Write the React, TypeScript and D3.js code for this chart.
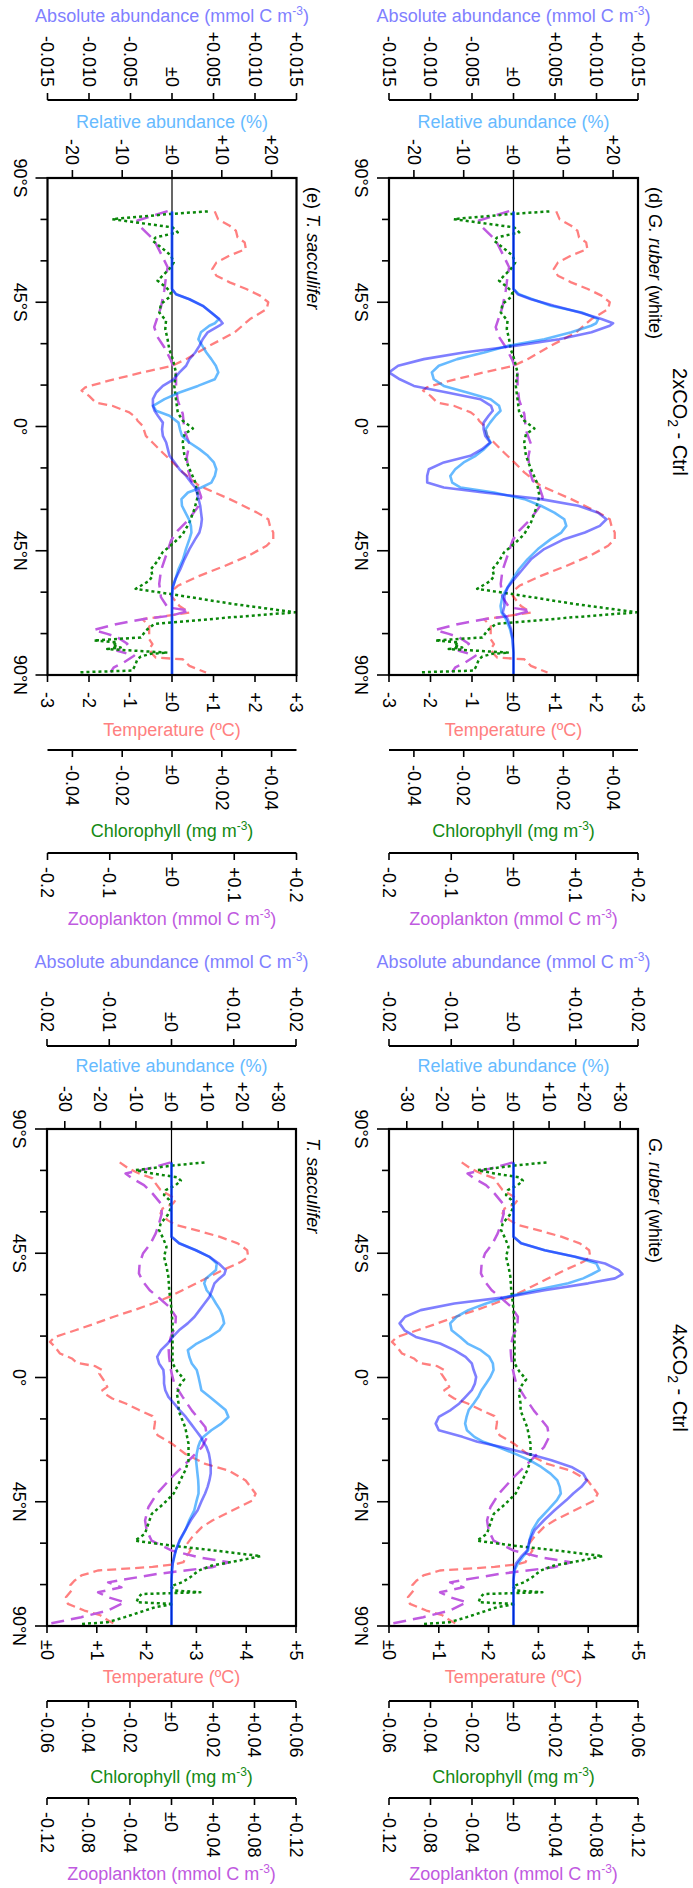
import React from "react";
import * as d3 from "d3";

// ---------------- DATA ----------------
const LAT_TICKS = [-90, -75, -60, -45, -30, -15, 0, 15, 30, 45, 60, 75, 90];
const LAT_MAJOR = [-90, -45, 0, 45, 90];
const LAT_LABELS = ["90°S", "45°S", "0°", "45°N", "90°N"];

// abundance latitude grids
const LAT_2X = [-77.9, -49.8, -47.9, -46.1, -43.7, -41.3, -38.9, -37.4, -36.5, -34.1,
  -31.6, -29.2, -26.8, -24.4, -22.0, -19.6, -17.1, -14.7, -12.3, -9.9,
  -7.5, -5.7, -3.9, -1.4, 1.0, 3.4, 5.8, 8.2, 10.6, 13.0,
  15.5, 17.9, 20.3, 22.1, 23.9, 26.3, 28.7, 31.2, 33.6, 36.0,
  38.4, 40.8, 44.4, 48.1, 51.7, 55.3, 58.3, 61.4, 65.0, 67.4,
  69.8, 73.4, 77.1, 81.9, 90];

const ABS_2X_RUBER = [0, 0, 0.0005, 0.0021, 0.0049, 0.0080, 0.0106, 0.0120, 0.0116, 0.0094,
  0.0055, 0.0001, -0.0060, -0.0108, -0.0139, -0.0150, -0.0137, -0.0120, -0.0080, -0.0040,
  -0.0027, -0.0025, -0.0030, -0.0036, -0.0036, -0.0034, -0.0028, -0.0038, -0.0052, -0.0084,
  -0.0102, -0.0104, -0.0104, -0.0084, -0.0036, 0.0033, 0.0078, 0.0102, 0.0112, 0.0104,
  0.0086, 0.0061, 0.0037, 0.0021, 0.0011, 0.0001, -0.0007, -0.0011, -0.0011, -0.0013,
  -0.0007, -0.0003, -0.0001, 0, 0];
const REL_2X_RUBER = [0, 0, 1.1, 3.8, 7.5, 13.7, 17.0, 16.6, 15.6, 11.6,
  6.2, -1.2, -5.9, -11.3, -15.0, -16.4, -16.0, -14.0, -9.3, -4.6,
  -2.9, -2.6, -3.6, -4.7, -5.6, -5.3, -4.6, -5.9, -7.6, -10.0,
  -11.7, -12.7, -12.3, -10.6, -3.9, 2.2, 5.5, 8.2, 10.2, 10.6,
  9.6, 7.5, 4.9, 2.8, 1.1, -0.2, -1.2, -2.2, -2.6, -2.4,
  -1.5, -0.7, -0.2, 0, 0];
const ABS_2X_SACC = [0, 0, 0.0005, 0.0021, 0.0037, 0.0047, 0.0057, 0.0061, 0.0057, 0.0043,
  0.0037, 0.0033, 0.0028, 0.0021, 0.0017, 0.0009, 0.0002, -0.0011, -0.0019, -0.0023,
  -0.0023, -0.0021, -0.0017, -0.0011, -0.0012, -0.0011, -0.0007, -0.0005, -0.0003, 0.0003,
  0.0009, 0.0017, 0.0023, 0.0028, 0.0030, 0.0032, 0.0034, 0.0035, 0.0036, 0.0035,
  0.0033, 0.0028, 0.0021, 0.0015, 0.0010, 0.0004, 0.0001, 0, 0, 0,
  0, 0, 0, 0, 0];
const REL_2X_SACC = [0, 0, 0.8, 3.5, 6.2, 7.9, 9.4, 8.6, 7.5, 5.8,
  5.3, 6.1, 6.9, 7.9, 8.8, 9.3, 8.6, 5.2, 1.5, -1.5,
  -3.8, -3.2, -0.5, 1.3, 1.6, 2.0, 3.5, 5.5, 7.2, 8.4,
  8.9, 8.6, 7.9, 5.9, 3.2, 1.9, 2.0, 2.7, 3.4, 3.8,
  3.9, 3.5, 2.8, 2.2, 1.3, 0.7, 0.1, 0, 0, 0,
  0, 0, 0, 0, 0];

const LAT_4X = [-77.9, -51.0, -48.6, -46.1, -43.7, -41.3, -38.9, -37.4, -35.9, -34.1,
  -31.6, -29.2, -26.8, -24.4, -22.0, -19.6, -17.1, -14.7, -12.3, -9.9,
  -7.5, -5.1, -2.7, -0.2, 2.2, 4.6, 7.0, 9.4, 11.8, 14.3,
  16.7, 19.1, 21.5, 23.3, 25.1, 27.5, 30.0, 32.4, 34.8, 37.2,
  39.6, 42.0, 44.4, 48.1, 51.7, 55.3, 58.9, 62.6, 65.0, 67.4,
  69.8, 73.4, 90];

const ABS_4X_RUBER = [0, 0, 0.0012, 0.0050, 0.0099, 0.0147, 0.0169, 0.0175, 0.0163, 0.0120,
  0.0050, -0.0009, -0.0095, -0.0149, -0.0174, -0.0183, -0.0175, -0.0157, -0.0118, -0.0095,
  -0.0077, -0.0067, -0.0064, -0.0060, -0.0062, -0.0067, -0.0077, -0.0087, -0.0101, -0.0120,
  -0.0125, -0.0120, -0.0082, -0.0058, -0.0021, 0.0022, 0.0061, 0.0093, 0.0112, 0.0118,
  0.0109, 0.0096, 0.0085, 0.0066, 0.0049, 0.0034, 0.0026, 0.0022, 0.0012, 0.0004,
  0.0001, 0, 0];
const REL_4X_RUBER = [0, 0, 2.2, 8.8, 17.3, 23.3, 24.2, 22.0, 19.6, 15.4,
  5.9, -1.8, -7.7, -12.7, -16.0, -17.8, -17.4, -15.0, -12.9, -9.2,
  -6.8, -5.8, -5.6, -6.5, -7.7, -9.0, -9.9, -11.2, -12.6, -13.2,
  -13.6, -13.1, -11.0, -8.5, -4.5, 0.2, 4.6, 7.8, 10.4, 12.3,
  13.0, 13.3, 12.2, 9.6, 7.0, 5.3, 4.5, 4.1, 2.6, 1.2,
  0.3, 0, 0];
const ABS_4X_SACC = [0, 0, 0.0012, 0.0039, 0.0061, 0.0076, 0.0087, 0.0085, 0.0077, 0.0069,
  0.0065, 0.0061, 0.0053, 0.0045, 0.0037, 0.0026, 0.0012, 0.0002, -0.0006, -0.0017,
  -0.0023, -0.0020, -0.0013, -0.0012, -0.0012, -0.0010, -0.0005, 0.0004, 0.0013, 0.0023,
  0.0031, 0.0039, 0.0047, 0.0051, 0.0056, 0.0060, 0.0062, 0.0063, 0.0063, 0.0061,
  0.0058, 0.0054, 0.0049, 0.0042, 0.0031, 0.0022, 0.0013, 0.0007, 0.0004, 0.0002,
  0.0001, 0, 0];
const REL_4X_SACC = [0, 0, 2.2, 6.9, 10.7, 12.7, 12.5, 11.1, 9.7, 9.2,
  9.9, 11.4, 12.5, 13.7, 14.4, 14.8, 13.5, 10.7, 7.1, 4.6,
  5.0, 5.7, 7.1, 7.6, 8.0, 8.4, 10.7, 13.0, 15.2, 16.0,
  14.0, 11.2, 9.0, 8.0, 7.5, 7.1, 6.9, 7.1, 7.3, 7.5,
  7.6, 7.6, 7.1, 6.4, 5.0, 3.9, 2.4, 1.2, 0.8, 0.3,
  0.1, 0, 0];

// environmental series: [latitude, value]
const TEMP_2X = [[-77.9, 1.03], [-75.1, 1.11], [-72.7, 1.39], [-70.9, 1.54], [-68.5, 1.58], [-66.7, 1.75], [-64.3, 1.78], [-61.9, 1.39], [-59.4, 1.07], [-57.0, 0.97], [-54.6, 1.07], [-52.2, 1.39], [-49.8, 1.79], [-47.4, 2.12], [-45.0, 2.32], [-42.5, 2.28], [-38.9, 1.88], [-34.1, 1.51], [-29.3, 0.91], [-24.4, 0.34], [-22.0, 0], [-19.6, -0.71], [-16.6, -1.52], [-14.2, -2.09], [-13.0, -2.18], [-11.1, -2.0], [-8.7, -1.84], [-7.5, -1.44], [-5.1, -1.03], [-3.3, -0.87], [-2.1, -0.83], [-0.3, -0.71], [3.4, -0.63], [5.8, -0.47], [9.4, -0.23], [13.0, 0.02], [16.6, 0.26], [21.5, 0.66], [26.3, 1.39], [31.1, 2.04], [33.6, 2.32], [36.0, 2.36], [38.4, 2.44], [40.8, 2.44], [43.2, 2.28], [46.9, 1.83], [50.5, 1.27], [54.1, 0.66], [57.7, 0.14], [59.5, 0.0], [61.3, -0.02], [65.0, 0.18], [67.4, 0.42], [68.6, -0.15], [69.8, -0.71], [72.2, -0.55], [77.0, -0.55], [78.8, -0.47], [80.6, -0.55], [82.5, -0.47], [83.7, -0.39], [84.3, 0.26], [86.7, 0.42], [89.1, 0.82]];
const CHL_2X = [[-77.9, 0.0144], [-77.0, -0.0004], [-75.1, -0.024], [-72.1, 0.0003], [-70.3, 0.0023], [-68.5, -0.0065], [-67.3, -0.0078], [-64.9, -0.0044], [-61.9, -0.0004], [-59.4, 0.0007], [-57.0, -0.0011], [-54.6, -0.0038], [-52.8, -0.0058], [-50.4, -0.0024], [-48.6, -0.0004], [-46.8, -0.0011], [-44.4, -0.0044], [-41.3, -0.0051], [-38.3, -0.0024], [-35.3, -0.0027], [-31.7, -0.0018], [-28.0, -0.0011], [-24.4, 0.0003], [-19.6, 0.0016], [-14.8, 0.0009], [-9.9, 0.0016], [-5.1, 0.0023], [-2.1, 0.0043], [0.7, 0.0084], [2.8, 0.005], [5.8, 0.0043], [10.6, 0.005], [15.4, 0.007], [20.3, 0.0094], [25.1, 0.0104], [29.9, 0.009], [34.8, 0.007], [39.0, 0.0043], [42.0, 0.0009], [45.6, -0.0038], [48.7, -0.0058], [51.7, -0.0085], [54.1, -0.0078], [55.9, -0.0092], [58.8, -0.0146], [60.7, -0.0004], [64.2, 0.0239], [67.3, 0.0495], [69.1, 0.0239], [71.5, -0.0071], [73.9, -0.0105], [76.4, -0.0125], [77.5, -0.0314], [78.2, -0.022], [79.3, -0.024], [80.0, -0.0206], [80.6, -0.026], [81.9, -0.0018], [82.3, -0.0085], [83.3, -0.0125], [84.3, -0.0139], [86.0, -0.0146], [87.2, -0.0152], [88.4, -0.0159], [89.0, -0.0368]];
const ZOO_2X = [[-78.0, -0.007], [-74.6, -0.0555], [-72.2, -0.050], [-67.4, -0.0286], [-62.6, -0.0178], [-57.7, -0.007], [-54.1, -0.0097], [-49.3, -0.0124], [-43.2, -0.0178], [-39.6, -0.0232], [-36.0, -0.0286], [-32.4, -0.0232], [-28.7, -0.0124], [-23.9, -0.0016], [-19.1, 0.0065], [-14.3, 0.0065], [-9.4, 0.0092], [-4.6, 0.0173], [1.4, 0.020], [6.3, 0.028], [11.1, 0.0237], [15.9, 0.026], [19.6, 0.0307], [22.0, 0.0415], [25.6, 0.0469], [29.2, 0.0415], [34.1, 0.0253], [37.7, 0.0092], [41.3, -0.0016], [45.0, -0.007], [52.2, -0.0178], [57.0, -0.0205], [61.8, -0.0178], [65.5, -0.007], [66.7, 0.028], [68.5, -0.0016], [69.7, -0.0447], [71.5, -0.0879], [73.7, -0.1256], [75.1, -0.104], [76.3, -0.0879], [78.7, -0.0717], [81.2, -0.0879], [83.0, -0.0609], [85.4, -0.0771], [87.2, -0.0933], [89.0, -0.0987]];

const TEMP_4X = [[-77.9, 1.46], [-75.7, 1.64], [-73.9, 1.85], [-72.1, 2.12], [-70.3, 2.18], [-67.9, 2.28], [-66.1, 2.45], [-64.5, 2.59], [-63.0, 2.53], [-61.2, 2.32], [-59.4, 2.28], [-57.0, 2.42], [-55.2, 2.59], [-53.4, 2.99], [-51.0, 3.46], [-48.6, 3.83], [-46.1, 4.02], [-43.7, 4.04], [-41.9, 3.90], [-38.9, 3.53], [-35.3, 3.13], [-31.6, 2.72], [-29.2, 2.45], [-26.8, 2.12], [-24.4, 1.75], [-22.0, 1.34], [-19.6, 0.97], [-17.1, 0.57], [-14.7, 0.16], [-12.9, 0.06], [-11.1, 0.16], [-8.7, 0.26], [-6.9, 0.50], [-5.3, 0.60], [-4.1, 0.97], [-2.7, 1.11], [-1.4, 1.05], [1.0, 1.14], [3.4, 1.21], [4.6, 1.11], [6.0, 1.17], [7.6, 1.31], [9.4, 1.58], [11.8, 1.85], [14.0, 2.12], [16.1, 2.17], [18.5, 2.15], [20.9, 2.22], [24.0, 2.51], [27.7, 2.78], [31.3, 3.18], [33.7, 3.65], [37.3, 3.99], [42.1, 4.19], [44.6, 4.12], [48.2, 3.72], [51.8, 3.32], [54.2, 3.11], [57.9, 2.91], [60.3, 2.81], [62.7, 2.88], [65.0, 2.79], [66.9, 2.74], [67.6, 2.59], [68.6, 2.12], [69.9, 1.02], [71.7, 0.69], [73.6, 0.55], [75.2, 0.47], [77.2, 0.49], [79.6, 0.38], [82.0, 0.42], [84.4, 0.75], [86.1, 1.07], [88.0, 1.23], [89.3, 1.36]];
const CHL_4X = [[-77.9, 0.0159], [-76.9, 0.0021], [-75.1, -0.0173], [-73.9, -0.0092], [-72.5, 0.0029], [-71.3, 0.0045], [-69.7, 0.0021], [-67.9, -0.0027], [-66.1, -0.0036], [-64.3, -0.0011], [-61.8, 0], [-58.8, -0.0019], [-55.8, -0.0052], [-53.4, -0.006], [-50.4, -0.004], [-47.3, -0.0024], [-43.7, -0.0036], [-40.1, -0.0024], [-36.5, -0.0015], [-31.6, -0.0011], [-26.8, -0.0003], [-19.6, 0.0005], [-9.9, 0.0005], [-5.1, 0.0005], [-2.1, 0.0029], [0.7, 0.0061], [2.8, 0.004], [5.8, 0.0026], [9.4, 0.0034], [12.0, 0.0034], [18.0, 0.0066], [24.0, 0.0082], [30.1, 0.0082], [33.7, 0.0066], [37.3, 0.0042], [42.1, 0.001], [45.8, -0.0039], [49.4, -0.0095], [53.0, -0.0112], [56.6, -0.0128], [59.1, -0.0176], [60.9, 0.0002], [62.7, 0.0212], [64.7, 0.043], [66.3, 0.0325], [68.1, 0.0196], [69.9, 0.0131], [72.3, 0.0091], [74.2, 0.005], [75.6, -0.0003], [77.1, 0.0013], [77.8, 0.0139], [78.4, -0.0144], [79.6, -0.016], [81.4, -0.0168], [82.0, 0.001], [83.2, -0.0079], [84.4, -0.0128], [86.8, -0.0225], [88.6, -0.0306], [89.3, -0.0435]];
const ZOO_4X = [[-77.9, -0.0006], [-75.7, -0.0217], [-73.9, -0.0443], [-72.1, -0.0378], [-69.7, -0.0265], [-66.7, -0.0184], [-63.0, -0.0103], [-59.4, -0.0094], [-55.8, -0.012], [-52.2, -0.0152], [-48.6, -0.0201], [-44.9, -0.0275], [-41.3, -0.0307], [-37.7, -0.0314], [-34.7, -0.0275], [-31.6, -0.021], [-28.6, -0.0113], [-25.6, -0.0023], [-22.0, 0.0042], [-18.4, 0.0036], [-14.7, -0.0006], [-11.1, -0.0029], [-7.5, -0.0023], [-2.7, -0.0006], [2.2, 0.0026], [7.0, 0.0107], [12.0, 0.0197], [18.0, 0.0327], [21.6, 0.0343], [25.2, 0.0294], [30.1, 0.0165], [36.1, 0.0003], [42.1, -0.0142], [47.0, -0.0223], [51.8, -0.0255], [55.4, -0.0239], [59.1, -0.0191], [62.7, 0.0003], [65.1, 0.0262], [66.9, 0.0553], [68.7, 0.0391], [69.9, 0.0133], [71.1, -0.0126], [72.3, -0.032], [74.2, -0.0611], [76.0, -0.0482], [77.8, -0.0708], [79.6, -0.0611], [81.4, -0.045], [84.4, -0.0611], [86.8, -0.087], [89.3, -0.1193]];

// tick values
const ABS_TICKS_2X = [-0.015, -0.01, -0.005, 0, 0.005, 0.01, 0.015];
const REL_TICKS_2X = [-20, -10, 0, 10, 20];
const TEMP_TICKS_2X = [-3, -2, -1, 0, 1, 2, 3];
const CHL_TICKS_2X = [-0.04, -0.02, 0, 0.02, 0.04];
const ZOO_TICKS_2X = [-0.2, -0.1, 0, 0.1, 0.2];
const ABS_TICKS_4X = [-0.02, -0.01, 0, 0.01, 0.02];
const REL_TICKS_4X = [-30, -20, -10, 0, 10, 20, 30];
const TEMP_TICKS_4X = [0, 1, 2, 3, 4, 5];
const CHL_TICKS_4X = [-0.06, -0.04, -0.02, 0, 0.02, 0.04, 0.06];
const ZOO_TICKS_4X = [-0.12, -0.08, -0.04, 0, 0.04, 0.08, 0.12];

// ---------------- STYLE ----------------
const FONT = "'Liberation Sans', Arial, Helvetica, sans-serif";
const FS = 18;
const C_ABS = "rgba(0,0,255,0.5)";
const C_REL = "rgba(0,140,255,0.6)";
const C_TEMP = "rgba(255,0,0,0.5)";
const C_CHL = "#0A870A";
const C_ZOO = "#BF5AE0";
const T_ABS = "#8080FF";
const T_REL = "#66BAFF";
const T_TEMP = "#FF8080";
const T_CHL = "#148A14";
const T_ZOO = "#BF5AE0";

const signed = (v: number, d: number) =>
  Math.abs(v) < 1e-12 ? "±0" : (v > 0 ? "+" : "-") + Math.abs(v).toFixed(d);

const AX_2X = {
  absDomain: [-0.015, 0.015], absTicks: ABS_TICKS_2X, absDigits: 3,
  relDomain: [-25, 25], relTicks: REL_TICKS_2X,
  tempDomain: [-3, 3], tempTicks: TEMP_TICKS_2X,
  chlDomain: [-0.05, 0.05], chlTicks: CHL_TICKS_2X, chlDigits: 2,
  zooDomain: [-0.2, 0.2], zooTicks: ZOO_TICKS_2X, zooDigits: 1,
  temp: TEMP_2X, chl: CHL_2X, zoo: ZOO_2X,
  off: { relLabel: 13, relTitle: 50, absLine: 78, absLabel: 91, absTitle: 156.5,
    tempLabel: 17, tempTitle: 61, chlLine: 75, chlLabel: 90, chlTitle: 162,
    zooLine: 178, zooLabel: 192, zooTitle: 250 },
};
const AX_4X = {
  absDomain: [-0.02, 0.02], absTicks: ABS_TICKS_4X, absDigits: 2,
  relDomain: [-35, 35], relTicks: REL_TICKS_4X,
  tempDomain: [0, 5], tempTicks: TEMP_TICKS_4X,
  chlDomain: [-0.06, 0.06], chlTicks: CHL_TICKS_4X, chlDigits: 2,
  zooDomain: [-0.12, 0.12], zooTicks: ZOO_TICKS_4X, zooDigits: 2,
  temp: TEMP_4X, chl: CHL_4X, zoo: ZOO_4X,
  off: { relLabel: 17, relTitle: 57, absLine: 83, absLabel: 97, absTitle: 161,
    tempLabel: 14, tempTitle: 57, chlLine: 75, chlLabel: 86, chlTitle: 157,
    zooLine: 172, zooLabel: 186, zooTitle: 254 },
};

const PANELS = [
  { id: "d", x0: 178, x1: 675, y0: 55, y1: 304, ax: AX_2X, lat: LAT_2X, abs: ABS_2X_RUBER, rel: REL_2X_RUBER,
    title: [["(d) ", false], ["G. ruber", true], [" (white)", false]] },
  { id: "e", x0: 178, x1: 675, y0: 396.5, y1: 645.5, ax: AX_2X, lat: LAT_2X, abs: ABS_2X_SACC, rel: REL_2X_SACC,
    title: [["(e) ", false], ["T. sacculifer", true]] },
  { id: "r4", x0: 1129, x1: 1626, y0: 55, y1: 304, ax: AX_4X, lat: LAT_4X, abs: ABS_4X_RUBER, rel: REL_4X_RUBER,
    title: [["G. ruber", true], [" (white)", false]] },
  { id: "s4", x0: 1129, x1: 1626, y0: 397, y1: 646, ax: AX_4X, lat: LAT_4X, abs: ABS_4X_SACC, rel: REL_4X_SACC,
    title: [["T. sacculifer", true]] },
];

function VTitle({ x, y, color, children }: any) {
  return (
    <text transform={`translate(${x},${y}) rotate(-90)`} textAnchor="middle" fill={color} fontSize={FS}>
      {children}
    </text>
  );
}

function Unit({ pre, suffix }: { pre: string; suffix: string }) {
  return (
    <>
      <tspan>{pre}</tspan>
      <tspan dy={-7} fontSize={12}>-3</tspan>
      <tspan dy={7}>{suffix}</tspan>
    </>
  );
}

function Panel({ p }: any) {
  const a = p.ax;
  const o = a.off;
  const { x0, x1, y0, y1 } = p;
  const cy = (y0 + y1) / 2;
  const x = d3.scaleLinear().domain([-90, 90]).range([x0, x1]);
  const mk = (dom: number[]) => d3.scaleLinear().domain(dom).range([y1, y0]);
  const yAbs = mk(a.absDomain), yRel = mk(a.relDomain), yT = mk(a.tempDomain),
    yC = mk(a.chlDomain), yZ = mk(a.zooDomain);
  const path = (ys: any, pts: number[][]) =>
    d3.line<number[]>().x((d) => x(d[0])).y((d) => ys(d[1]))(pts) || "";
  const absPts = p.lat.map((l: number, i: number) => [l, p.abs[i]]);
  const relPts = p.lat.map((l: number, i: number) => [l, p.rel[i]]);
  const clip = `clip-${p.id}`;
  const tk = { stroke: "#000", strokeWidth: 1.6 };
  return (
    <g>
      <defs>
        <clipPath id={clip}>
          <rect x={x0} y={y0} width={x1 - x0} height={y1 - y0} />
        </clipPath>
      </defs>
      <g clipPath={`url(#${clip})`} fill="none" strokeLinejoin="round">
        <line x1={x0} x2={x1} y1={yAbs(0)} y2={yAbs(0)} stroke="#000" strokeWidth={1.2} />
        <path d={path(yT, a.temp)} stroke={C_TEMP} strokeWidth={2.3} strokeDasharray="9,5" />
        <path d={path(yZ, a.zoo)} stroke={C_ZOO} strokeWidth={2.5} strokeDasharray="13,7" />
        <path d={path(yC, a.chl)} stroke={C_CHL} strokeWidth={2.5} strokeDasharray="3,3" />
        <path d={path(yRel, relPts)} stroke={C_REL} strokeWidth={2.6} />
        <path d={path(yAbs, absPts)} stroke={C_ABS} strokeWidth={2.6} />
      </g>
      <rect x={x0} y={y0} width={x1 - x0} height={y1 - y0} fill="none" stroke="#000" strokeWidth={2.2} />

      {/* latitude axis */}
      {LAT_TICKS.map((t) => (
        <line key={"lt" + t} x1={x(t)} x2={x(t)} y1={y1} y2={y1 + (LAT_MAJOR.includes(t) ? 12 : 7)} {...tk} />
      ))}
      {LAT_MAJOR.map((t, i) => (
        <text key={"ll" + t} x={x(t)} y={y1 + 34} textAnchor="middle" fontSize={FS}>{LAT_LABELS[i]}</text>
      ))}

      {/* relative abundance (box left) */}
      {a.relTicks.map((t: number) => (
        <g key={"r" + t}>
          <line x1={x0 - 8} x2={x0} y1={yRel(t)} y2={yRel(t)} {...tk} />
          <text x={x0 - o.relLabel} y={yRel(t)} dy="0.35em" textAnchor="end" fontSize={FS}>{signed(t, 0)}</text>
        </g>
      ))}
      <VTitle x={x0 - o.relTitle} y={cy} color={T_REL}>Relative abundance (%)</VTitle>

      {/* absolute abundance */}
      <line x1={x0 - o.absLine} x2={x0 - o.absLine} y1={y0} y2={y1} stroke="#000" strokeWidth={2} />
      {a.absTicks.map((t: number) => (
        <g key={"a" + t}>
          <line x1={x0 - o.absLine - 7} x2={x0 - o.absLine} y1={yAbs(t)} y2={yAbs(t)} {...tk} />
          <text x={x0 - o.absLabel} y={yAbs(t)} dy="0.35em" textAnchor="end" fontSize={FS}>{signed(t, a.absDigits)}</text>
        </g>
      ))}
      <VTitle x={x0 - o.absTitle} y={cy} color={T_ABS}>
        <Unit pre="Absolute abundance (mmol C m" suffix=")" />
      </VTitle>

      {/* temperature (box right) */}
      {a.tempTicks.map((t: number) => (
        <g key={"t" + t}>
          <line x1={x1} x2={x1 + 7} y1={yT(t)} y2={yT(t)} {...tk} />
          <text x={x1 + o.tempLabel} y={yT(t)} dy="0.35em" textAnchor="start" fontSize={FS}>{signed(t, 0)}</text>
        </g>
      ))}
      <VTitle x={x1 + o.tempTitle} y={cy} color={T_TEMP}>Temperature (ºC)</VTitle>

      {/* chlorophyll */}
      <line x1={x1 + o.chlLine} x2={x1 + o.chlLine} y1={y0} y2={y1} stroke="#000" strokeWidth={2} />
      {a.chlTicks.map((t: number) => (
        <g key={"c" + t}>
          <line x1={x1 + o.chlLine} x2={x1 + o.chlLine + 7} y1={yC(t)} y2={yC(t)} {...tk} />
          <text x={x1 + o.chlLabel} y={yC(t)} dy="0.35em" textAnchor="start" fontSize={FS}>{signed(t, a.chlDigits)}</text>
        </g>
      ))}
      <VTitle x={x1 + o.chlTitle} y={cy} color={T_CHL}>
        <Unit pre="Chlorophyll (mg m" suffix=")" />
      </VTitle>

      {/* zooplankton */}
      <line x1={x1 + o.zooLine} x2={x1 + o.zooLine} y1={y0} y2={y1} stroke="#000" strokeWidth={2} />
      {a.zooTicks.map((t: number) => (
        <g key={"z" + t}>
          <line x1={x1 + o.zooLine} x2={x1 + o.zooLine + 7} y1={yZ(t)} y2={yZ(t)} {...tk} />
          <text x={x1 + o.zooLabel} y={yZ(t)} dy="0.35em" textAnchor="start" fontSize={FS}>{signed(t, a.zooDigits)}</text>
        </g>
      ))}
      <VTitle x={x1 + o.zooTitle} y={cy} color={T_ZOO}>
        <Unit pre="Zooplankton (mmol C m" suffix=")" />
      </VTitle>

      {/* panel title */}
      <text x={x0 + 9} y={y0 - 10.5} fontSize={FS}>
        {p.title.map((s: any, i: number) => (
          <tspan key={i} fontStyle={s[1] ? "italic" : "normal"}>{s[0]}</tspan>
        ))}
      </text>
    </g>
  );
}

function SupTitle({ cx, n }: { cx: number; n: string }) {
  return (
    <text x={cx} y={20} textAnchor="middle" fontSize={20}>
      <tspan>{n}xCO</tspan>
      <tspan dy={5} fontSize={14}>2</tspan>
      <tspan dy={-5}> - Ctrl</tspan>
    </text>
  );
}

export default function App() {
  return (
    <svg width={693} height={1888} style={{ position: "absolute", left: 0, top: 0 }} fontFamily={FONT}>
      <rect x={0} y={0} width={693} height={1888} fill="#fff" />
      <g transform="translate(693,0) rotate(90)">
        <SupTitle cx={422} n="2" />
        <SupTitle cx={1378} n="4" />
        {PANELS.map((p) => (
          <Panel key={p.id} p={p} />
        ))}
      </g>
    </svg>
  );
}
